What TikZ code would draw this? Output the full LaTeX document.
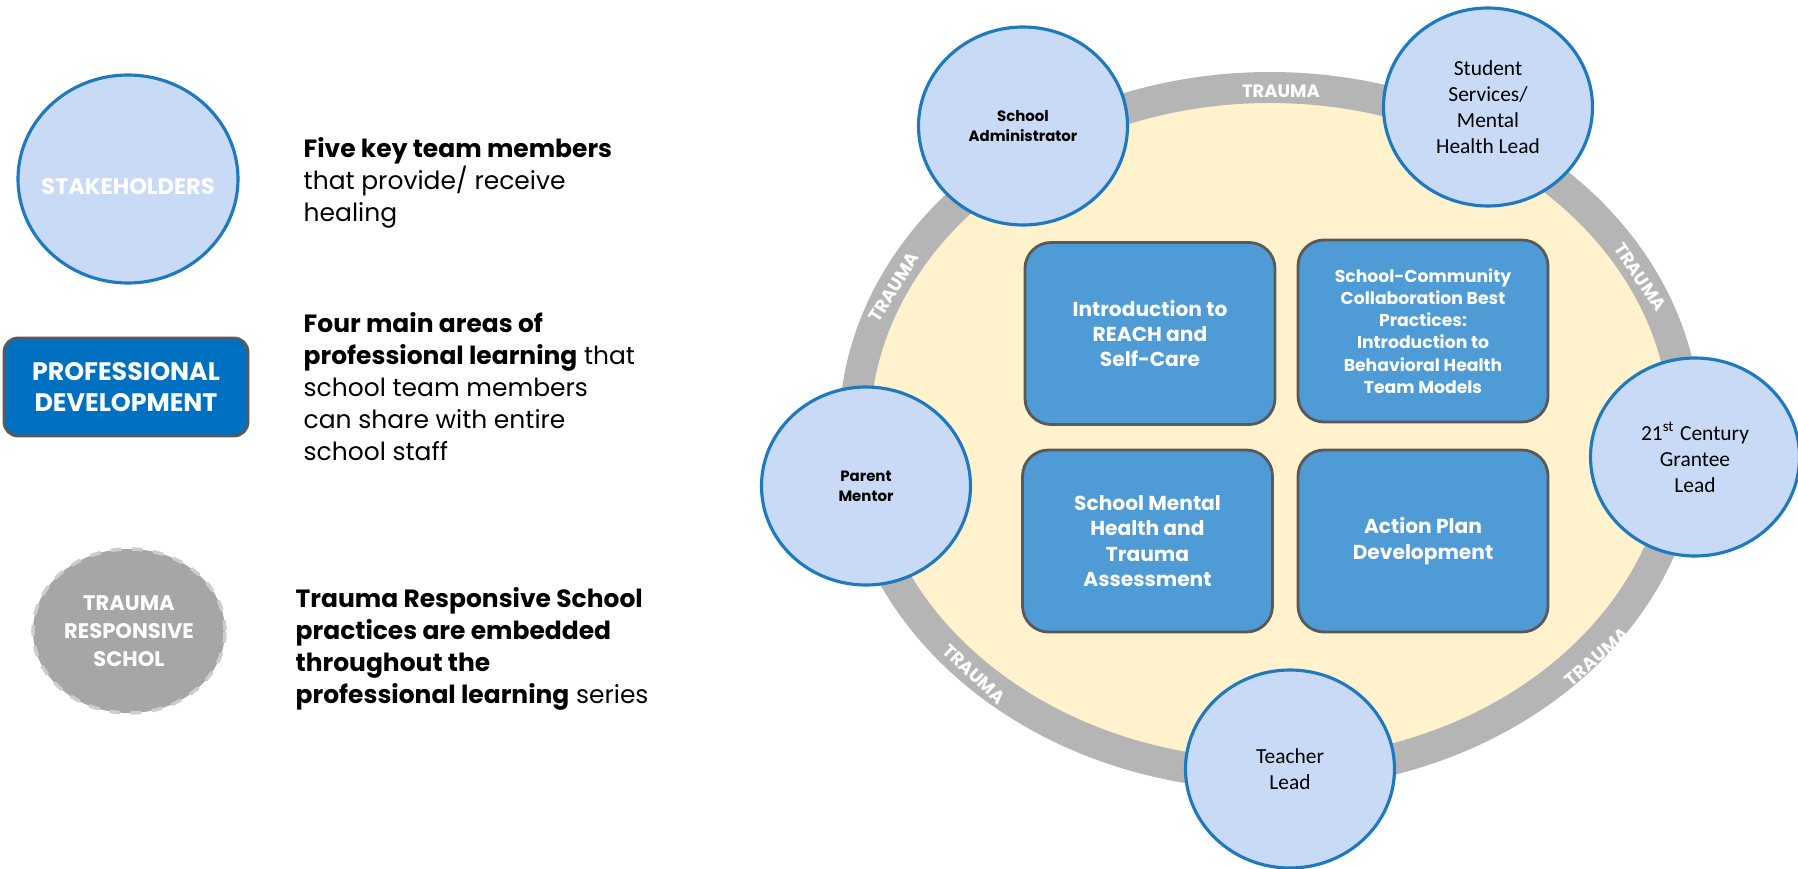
\documentclass[tikz,border=0pt]{standalone}
\usepackage{fontspec}
\setmainfont{Poppins}
\newfontfamily\calibri{Carlito}
\usetikzlibrary{shapes.geometric,positioning}

\definecolor{ringgray}{RGB}{181,181,181}
\definecolor{cream}{RGB}{255,242,204}
\definecolor{memberfill}{RGB}{200,218,245}
\definecolor{memberline}{RGB}{30,121,190}
\definecolor{areafill}{RGB}{78,155,214}
\definecolor{arealine}{RGB}{89,89,89}
\definecolor{pdblue}{RGB}{0,112,192}
\definecolor{traumafill}{RGB}{166,166,166}
\definecolor{traumaline}{RGB}{205,205,205}

\tikzset{
  member/.style={ellipse, draw=memberline, line width=0.9pt, fill=memberfill,
    minimum width=2.09cm, minimum height=1.98cm, inner sep=0pt, align=center},
  boldmember/.style={member, font=\bfseries\fontsize{4.25}{5.6}\selectfont},
  plainmember/.style={member, font=\calibri\fontsize{6.1}{7.4}\selectfont},
  area/.style={rectangle, rounded corners=0.26cm, draw=arealine, line width=0.8pt,
    fill=areafill, minimum width=2.5cm, minimum height=1.82cm, inner sep=0pt,
    text=white, align=center, font=\bfseries\fontsize{5.75}{7.2}\selectfont},
  ringlabel/.style={text=white, inner sep=0pt, font=\bfseries\fontsize{5.1}{6}\selectfont},
  blurb/.style={anchor=base west, inner sep=0pt, align=left,
    font=\fontsize{7.1}{9.1}\selectfont}
}

\begin{document}
\begin{tikzpicture}
  \useasboundingbox (0,0) rectangle (17.98,8.68);

  % Key on the left
  \node[member, minimum width=2.2cm, minimum height=2.08cm] (stake) at (1.28,6.89) {};
  \node[text=white, inner sep=0pt, font=\bfseries\fontsize{6.4}{7}\selectfont] (stakelabel)
    at (1.28,6.81) {STAKEHOLDERS};
  \node[rectangle, rounded corners=0.14cm, draw=arealine, line width=0.8pt, fill=pdblue,
    minimum width=2.44cm, minimum height=0.98cm, text=white, align=center,
    font=\bfseries\fontsize{7.2}{8.8}\selectfont] (pd) at (1.26,4.81) {PROFESSIONAL\\DEVELOPMENT};
  \node[ellipse, fill=traumafill, draw=traumaline, line width=1pt, dashed,
    minimum width=1.92cm, minimum height=1.64cm, inner sep=0pt, text=white, align=center,
    font=\bfseries\fontsize{6}{8}\selectfont] (trs) at (1.29,2.37) {TRAUMA\\RESPONSIVE\\SCHOL};

  % notes, anchored on their last line
  \node[blurb] (stakenote) at (3.03,6.47)
    {\textbf{Five key team members}\\that provide/ receive\\healing};
  \node[blurb] (pdnote) at (3.03,4.08)
    {\textbf{Four main areas of}\\\textbf{professional learning} that\\school team members\\can share with entire\\school staff};
  \node[blurb] (trsnote) at (2.95,1.65)
    {\textbf{Trauma Responsive School}\\\textbf{practices are embedded}\\\textbf{throughout the}\\\textbf{professional learning} series};

  % Trauma ring
  \draw[line width=0.31cm, draw=ringgray, fill=cream] (12.70,4.37) ellipse (4.155 and 3.435);

  % Four learning areas
  \node[area] (intro) at (11.50,5.345) {Introduction to\\REACH and\\Self-Care};
  \node[area, font=\bfseries\fontsize{4.9}{6.3}\selectfont] (collab) at (14.23,5.37)
    {School-Community\\Collaboration Best\\Practices:\\Introduction to\\Behavioral Health\\Team Models};
  \node[area] (assess) at (11.475,3.27) {School Mental\\Health and\\Trauma\\Assessment};
  \node[area] (plan) at (14.23,3.27) {Action Plan\\Development};

  % Team members
  \node[boldmember] (admin) at (10.23,7.42) {School\\Administrator};
  \node[plainmember] (student) at (14.88,7.61) {Student\\Services/\\Mental\\Health Lead};
  \node[boldmember] (parent) at (8.66,3.82) {Parent\\Mentor};
  \node[plainmember] (grantee) at (16.95,4.11) {21\textsuperscript{st} Century\\Grantee\\Lead};
  \node[plainmember] (teacher) at (12.90,0.99) {Teacher\\Lead};

  % Ring labels
  \node[ringlabel] (ttop) at (12.81,7.765) {TRAUMA};
  \node[ringlabel, rotate=58] (tleft) at (8.94,5.81) {TRAUMA};
  \node[ringlabel, rotate=-56] (tright) at (16.40,5.91) {TRAUMA};
  \node[ringlabel, rotate=41] (tlowright) at (15.97,2.11) {TRAUMA};
  \node[ringlabel, rotate=-43] (tlowleft) at (9.74,1.94) {TRAUMA};
\end{tikzpicture}
\end{document}
